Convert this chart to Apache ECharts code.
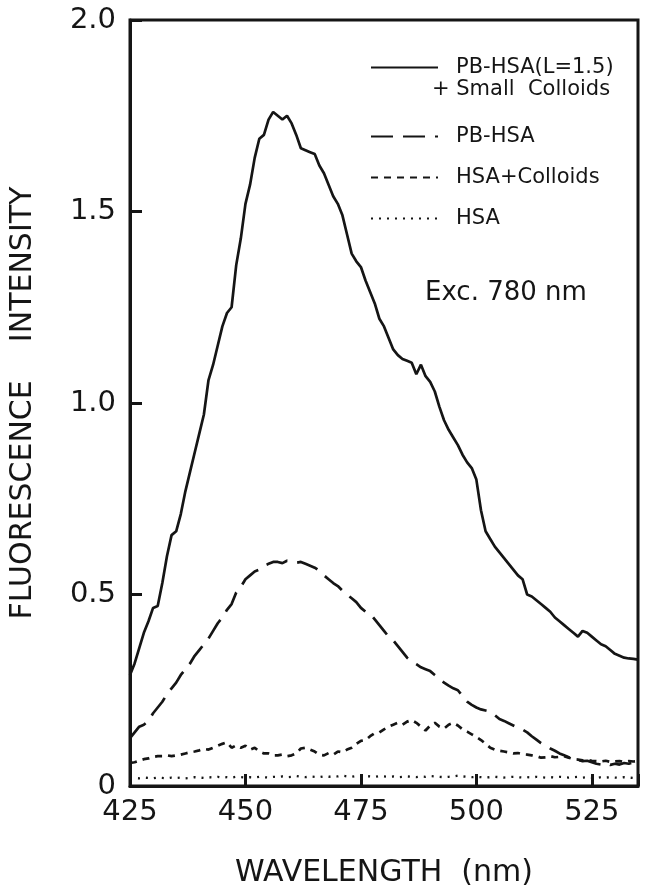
<!DOCTYPE html>
<html>
<head lang="en">
    <meta charset="UTF-8">
    <title>Fluorescence intensity</title>
    <style>
        html, body { margin: 0; padding: 0; background: #fff; }
    </style>
</head>
<body>
<div id="container" style="height:893px;width:650px"></div>
<script type="text/javascript" src="https://cdn.jsdelivr.net/npm/echarts@6/dist/echarts.min.js"></script>
<script type="text/javascript">
    // wavelength (nm), one point per nm
    var wavelength = [
        425, 426, 427, 428, 429, 430, 431, 432, 433, 434, 435, 436, 437, 438, 439, 440, 441, 442, 443, 444,
        445, 446, 447, 448, 449, 450, 451, 452, 453, 454, 455, 456, 457, 458, 459, 460, 461, 462, 463, 464,
        465, 466, 467, 468, 469, 470, 471, 472, 473, 474, 475, 476, 477, 478, 479, 480, 481, 482, 483, 484,
        485, 486, 487, 488, 489, 490, 491, 492, 493, 494, 495, 496, 497, 498, 499, 500, 501, 502, 503, 504,
        505, 506, 507, 508, 509, 510, 511, 512, 513, 514, 515, 516, 517, 518, 519, 520, 521, 522, 523, 524,
        525, 526, 527, 528, 529, 530, 531, 532, 533, 534, 535
    ];

    // PB-HSA(L=1.5) + Small Colloids
    var pbHsaColloids = [
        0.29, 0.32, 0.36, 0.40, 0.43, 0.465, 0.47, 0.53, 0.60, 0.655, 0.665, 0.71, 0.77, 0.82, 0.87, 0.92, 0.97, 1.06, 1.10, 1.15,
        1.20, 1.235, 1.25, 1.36, 1.43, 1.52, 1.57, 1.64, 1.69, 1.70, 1.74, 1.76, 1.75, 1.74, 1.75, 1.73, 1.70, 1.665, 1.66, 1.655,
        1.65, 1.62, 1.60, 1.57, 1.54, 1.52, 1.49, 1.44, 1.39, 1.37, 1.355, 1.32, 1.29, 1.26, 1.22, 1.20, 1.17, 1.14, 1.125, 1.115,
        1.11, 1.105, 1.075, 1.10, 1.07, 1.055, 1.03, 0.99, 0.955, 0.93, 0.91, 0.89, 0.865, 0.845, 0.83, 0.80, 0.72, 0.665, 0.645, 0.625,
        0.61, 0.595, 0.58, 0.565, 0.55, 0.54, 0.50, 0.495, 0.485, 0.475, 0.465, 0.455, 0.44, 0.43, 0.42, 0.41, 0.40, 0.39, 0.405, 0.40,
        0.39, 0.38, 0.37, 0.365, 0.355, 0.345, 0.34, 0.335, 0.333, 0.332, 0.33
    ];

    // PB-HSA
    var pbHsa = [
        0.125, 0.14, 0.155, 0.16, 0.17, 0.19, 0.205, 0.22, 0.24, 0.255, 0.27, 0.29, 0.305, 0.32, 0.34, 0.355, 0.37, 0.385, 0.405, 0.425,
        0.44, 0.46, 0.475, 0.505, 0.52, 0.54, 0.55, 0.56, 0.565, 0.575, 0.58, 0.585, 0.585, 0.582, 0.588, 0.585, 0.583, 0.585, 0.58, 0.575,
        0.57, 0.562, 0.55, 0.54, 0.53, 0.522, 0.51, 0.50, 0.49, 0.48, 0.465, 0.455, 0.45, 0.435, 0.42, 0.405, 0.39, 0.38, 0.365, 0.35,
        0.335, 0.325, 0.318, 0.31, 0.305, 0.30, 0.29, 0.28, 0.27, 0.262, 0.255, 0.25, 0.235, 0.22, 0.212, 0.205, 0.20, 0.197, 0.194, 0.185,
        0.175, 0.17, 0.164, 0.158, 0.152, 0.147, 0.14, 0.13, 0.121, 0.112, 0.105, 0.098, 0.092, 0.085, 0.08, 0.075, 0.07, 0.068, 0.065, 0.066,
        0.062, 0.058, 0.056, 0.06, 0.055, 0.058, 0.056, 0.06, 0.058, 0.062, 0.065
    ];

    // HSA + Colloids
    var hsaColloids = [
        0.06, 0.062, 0.066, 0.07, 0.072, 0.076, 0.078, 0.078, 0.08, 0.078, 0.08, 0.082, 0.085, 0.088, 0.09, 0.093, 0.097, 0.095, 0.10, 0.105,
        0.11, 0.114, 0.10, 0.106, 0.10, 0.105, 0.095, 0.10, 0.09, 0.085, 0.085, 0.08, 0.08, 0.082, 0.078, 0.08, 0.085, 0.098, 0.10, 0.095,
        0.09, 0.082, 0.08, 0.086, 0.082, 0.09, 0.088, 0.095, 0.10, 0.11, 0.118, 0.12, 0.13, 0.138, 0.14, 0.148, 0.155, 0.16, 0.165, 0.16,
        0.168, 0.172, 0.165, 0.155, 0.145, 0.158, 0.165, 0.155, 0.15, 0.16, 0.165, 0.158, 0.148, 0.142, 0.135, 0.128, 0.12, 0.11, 0.10, 0.095,
        0.092, 0.09, 0.088, 0.085, 0.086, 0.083, 0.082, 0.08, 0.078, 0.074, 0.075, 0.078, 0.075, 0.076, 0.078, 0.074, 0.07, 0.069, 0.067, 0.068,
        0.066, 0.065, 0.064, 0.066, 0.063, 0.064, 0.065, 0.063, 0.065, 0.064, 0.065
    ];

    // HSA
    var hsa = [
        0.02, 0.021, 0.02, 0.022, 0.021, 0.02, 0.022, 0.021, 0.02, 0.022, 0.021, 0.022, 0.02, 0.021, 0.023, 0.022, 0.021, 0.023, 0.022, 0.024,
        0.022, 0.023, 0.022, 0.024, 0.023, 0.022, 0.023, 0.022, 0.024, 0.023, 0.022, 0.024, 0.023, 0.025, 0.023, 0.024, 0.026, 0.024, 0.023, 0.025,
        0.024, 0.023, 0.025, 0.024, 0.026, 0.025, 0.027, 0.025, 0.024, 0.026, 0.028, 0.026, 0.025, 0.024, 0.026, 0.025, 0.024, 0.025, 0.023, 0.024,
        0.025, 0.024, 0.023, 0.025, 0.024, 0.026, 0.025, 0.024, 0.023, 0.024, 0.025, 0.027, 0.025, 0.024, 0.023, 0.024, 0.023, 0.022, 0.023, 0.024,
        0.023, 0.022, 0.023, 0.024, 0.023, 0.022, 0.023, 0.022, 0.024, 0.023, 0.022, 0.023, 0.022, 0.024, 0.023, 0.022, 0.023, 0.024, 0.022, 0.023,
        0.022, 0.021, 0.023, 0.022, 0.023, 0.022, 0.021, 0.023, 0.022, 0.021, 0.022
    ];

    var seriesNames = ['PB-HSA(L=1.5)', 'PB-HSA', 'HSA+Colloids', 'HSA'];
    var xTicks = [425, 450, 475, 500, 525];
    var yTicks = [0, 0.5, 1.0, 1.5, 2.0];

    var FONT = '"DejaVu Sans", sans-serif';
    var INK = '#151515';

    function pairs(ys) {
        return ys.map(function (v, i) {
            return [wavelength[i], v];
        });
    }

    var dom = document.getElementById("container");
    var myChart = echarts.init(dom, null, {renderer: 'canvas'});

    var lineKinds = [
        {data: pbHsaColloids, type: 'solid', width: 2.7},
        {data: pbHsa, type: [22, 10], width: 2.7},
        {data: hsaColloids, type: [7, 6], width: 2.7},
        {data: hsa, type: [2, 6], width: 2.3}
    ];

    var legendText = {fontFamily: FONT, fontSize: 21, color: INK, padding: [0, 0, 0, 13]};

    var option = {
        backgroundColor: '#fff',
        animation: false,
        grid: {
            left: 127, right: 12, top: 20, bottom: 107,
            show: true, borderColor: INK, borderWidth: 3
        },
        legend: [{
            data: [seriesNames[0]],
            left: 365, top: 52,
            itemWidth: 67, itemHeight: 20,
            itemStyle: {opacity: 0},
            textStyle: legendText
        }, {
            data: seriesNames.slice(1),
            orient: 'vertical',
            left: 365, top: 121,
            itemWidth: 67, itemHeight: 20, itemGap: 20,
            itemStyle: {opacity: 0},
            textStyle: legendText
        }],
        graphic: [{
            type: 'text', left: 432, top: 79,
            style: {text: '+ Small  Colloids', font: '21px ' + FONT, fill: INK}
        }, {
            type: 'text', left: 425, top: 280,
            style: {text: 'Exc. 780 nm', font: '26px ' + FONT, fill: INK}
        }],
        xAxis: {
            type: 'value',
            min: 425, max: 535, interval: 25,
            name: 'WAVELENGTH  (nm)',
            nameLocation: 'middle', nameGap: 72,
            nameTextStyle: {fontFamily: FONT, fontSize: 30, color: INK},
            axisLine: {lineStyle: {color: INK, width: 3}},
            axisTick: {inside: true, length: 12, lineStyle: {color: INK, width: 3}},
            axisLabel: {
                fontFamily: FONT, fontSize: 29, color: INK, margin: 12,
                formatter: function (v) {
                    return xTicks.indexOf(v) >= 0 ? String(v) : '';
                }
            },
            splitLine: {show: false}
        },
        yAxis: {
            type: 'value',
            min: 0, max: 2, interval: 0.5,
            name: 'FLUORESCENCE    INTENSITY',
            nameLocation: 'middle', nameGap: 92,
            nameTextStyle: {fontFamily: FONT, fontSize: 30, color: INK},
            axisLine: {lineStyle: {color: INK, width: 3}},
            axisTick: {inside: true, length: 12, lineStyle: {color: INK, width: 3}},
            axisLabel: {
                fontFamily: FONT, fontSize: 29, color: INK, margin: 14,
                formatter: function (v) {
                    if (yTicks.indexOf(v) < 0) return '';
                    return v === 0 ? '0' : v.toFixed(1);
                }
            },
            splitLine: {show: false}
        },
        series: lineKinds.map(function (k, i) {
            return {
                name: seriesNames[i],
                type: 'line',
                data: pairs(k.data),
                symbol: 'none',
                smooth: false,
                itemStyle: {color: INK},
                lineStyle: {color: INK, width: k.width, type: k.type}
            };
        })
    };

    myChart.setOption(option);
</script>
</body>
</html>
